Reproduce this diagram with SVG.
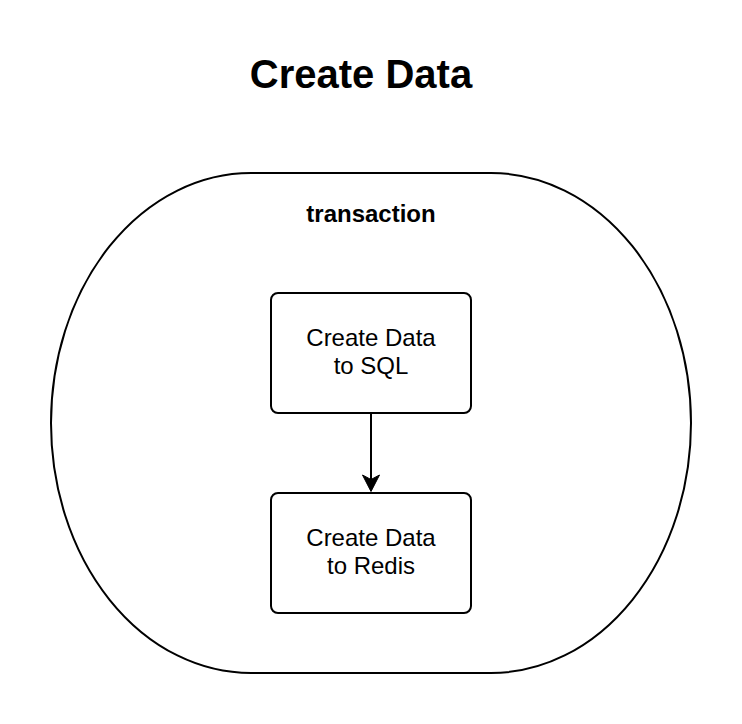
<svg xmlns="http://www.w3.org/2000/svg" width="742" height="724" viewBox="0 0 742 724">
  <style>
    .shape { fill: #ffffff; stroke: #000000; stroke-width: 2; }
    .lbl { font-family: "Liberation Sans", Arial, sans-serif; font-size: 24px; fill: #000000; text-anchor: middle; }
    .bold { font-weight: bold; }
    .title { font-family: "Liberation Sans", Arial, sans-serif; font-size: 40px; font-weight: bold; fill: #000000; text-anchor: middle; }
    .edge { fill: none; stroke: #000000; stroke-width: 2; }
    .head { fill: #000000; stroke: #000000; stroke-width: 1; stroke-linejoin: miter; }
  </style>
  <rect width="742" height="724" fill="#ffffff"/>
  <g id="title">
    <text class="title" x="361" y="88">Create Data</text>
  </g>
  <g id="transaction">
    <rect class="shape" x="51" y="173" width="640" height="500" rx="200" ry="250"/>
    <text class="lbl bold" x="371" y="222">transaction</text>
  </g>
  <g id="sql">
    <rect class="shape" x="271" y="293" width="200" height="120" rx="7" ry="7"/>
    <text class="lbl" x="371" y="346">Create Data</text>
    <text class="lbl" x="371" y="374">to SQL</text>
  </g>
  <g id="redis">
    <rect class="shape" x="271" y="493" width="200" height="120" rx="7" ry="7"/>
    <text class="lbl" x="371" y="546">Create Data</text>
    <text class="lbl" x="371" y="574">to Redis</text>
  </g>
  <g id="connectors">
    <path class="edge" d="M371,413 L371,480"/>
    <path class="head" d="M371,491.5 L362.5,475 L371,479.5 L379.5,475 Z"/>
  </g>
</svg>
